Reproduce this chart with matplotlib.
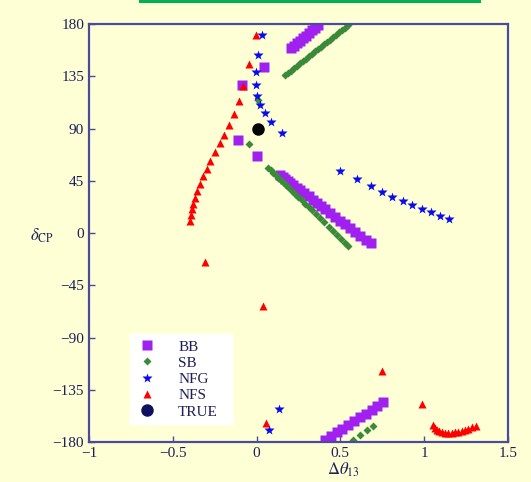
import matplotlib
matplotlib.use("Agg")
import matplotlib.pyplot as plt
from matplotlib.lines import Line2D

# ---- data ----
bb_x = [-0.089, 0.044, -0.113, 0.002,
        0.205, 0.222, 0.240, 0.258, 0.276, 0.294, 0.312, 0.330, 0.348, 0.366,
        0.14, 0.155, 0.17, 0.185, 0.20, 0.22, 0.24, 0.26, 0.285, 0.31, 0.335, 0.36,
        0.385, 0.41, 0.44, 0.47, 0.50, 0.53, 0.56, 0.59, 0.62, 0.65, 0.68,
        0.408, 0.443, 0.478, 0.512, 0.547, 0.582, 0.617, 0.652, 0.686, 0.721, 0.756]
bb_y = [127.5, 142.7, 80.1, 66.3,
        159, 161, 163.5, 165.5, 168, 170, 172.5, 174.5, 177, 179,
        50, 48.4, 46.7, 45.1, 43.5, 41.3, 39.1, 36.9, 34.2, 31.5, 28.7, 26.0,
        23.3, 20.6, 17.3, 14.0, 10.8, 7.5, 4.2, 1.0, -2.3, -5.6, -8.9,
        -178.3, -175.0, -171.8, -168.5, -165.3, -162.0, -158.8, -155.5, -152.3, -149.0, -145.8]

sb_x = [0.006, -0.044,
        0.17, 0.188, 0.206, 0.224, 0.242, 0.26, 0.278, 0.296, 0.314, 0.332, 0.35,
        0.368, 0.386, 0.404, 0.422, 0.44, 0.458, 0.476, 0.494, 0.512, 0.53, 0.548,
        0.07, 0.085, 0.10, 0.115, 0.13, 0.145, 0.16, 0.175, 0.19, 0.21, 0.23, 0.25,
        0.27, 0.29, 0.31, 0.33, 0.355, 0.38, 0.405, 0.43, 0.455, 0.48, 0.505, 0.53, 0.547,
        0.577, 0.617, 0.656, 0.696]
sb_y = [114.6, 76.7,
        136, 138, 140, 142.1, 144.1, 146.2, 148.2, 150.3, 152.3, 154.4, 156.4,
        158.5, 160.5, 162.6, 164.6, 166.7, 168.7, 170.8, 172.8, 174.9, 176.9, 179,
        56.3, 54.2, 52.1, 49.9, 47.8, 45.7, 43.6, 41.5, 39.4, 36.6, 33.7, 30.9,
        28.1, 25.3, 22.5, 19.6, 16.1, 12.6, 9.1, 5.5, 2.0, -1.5, -5.0, -8.6, -10.9,
        -178.3, -174.0, -169.7, -166.0]

nfg_x = [0.03, 0.006, -0.006, -0.006, 0.002, 0.02, 0.05, 0.088, 0.149,
         0.498, 0.597, 0.68, 0.75, 0.81, 0.871, 0.929, 0.987, 1.04, 1.094, 1.15,
         0.134, 0.074]
nfg_y = [170.5, 153.3, 138.9, 127.5, 118.3, 110.2, 103.1, 95.3, 85.9,
         53.4, 46.2, 40.5, 35.6, 31.3, 27.6, 24.1, 20.7, 17.8, 14.9, 12.1,
         -151.8, -169.9]

nfs_x = [-0.004, -0.047, -0.083, -0.107, -0.137, -0.165, -0.195, -0.22, -0.25,
         -0.277, -0.298, -0.32, -0.338, -0.356, -0.368, -0.378, -0.386, -0.392, -0.396,
         -0.308, 0.036, 0.054, 0.75, 0.987,
         1.055, 1.062, 1.074, 1.088, 1.104, 1.124, 1.144, 1.164, 1.184, 1.204,
         1.223, 1.243, 1.263, 1.286, 1.309]
nfs_y = [170.3, 145.3, 126.6, 114, 102.5, 93.3, 84.7, 77.3, 69.5,
         62.3, 55.4, 49.1, 42.5, 36.2, 30.4, 25.2, 20.4, 15.8, 10.6,
         -25.2, -62.9, -163.3, -119, -147.3,
         -165.3, -167.8, -169.6, -170.8, -171.6, -172.2, -172.5, -172.2, -171.6, -171.1,
         -170.5, -169.7, -168.8, -167.5, -166.2]

true_x = [0.006]
true_y = [89.6]

x_ticks = [-1, -0.5, 0, 0.5, 1, 1.5]
x_labels = ["\u22121", "\u22120.5", "0", "0.5", "1", "1.5"]
y_ticks = [-180, -135, -90, -45, 0, 45, 90, 135, 180]
y_labels = ["\u2212180", "\u2212135", "\u221290", "\u221245", "0", "45", "90", "135", "180"]

# ---- style ----
bg = "#FFFFD6"
frame = "#4B4B9B"
txt = "#1E1E5A"
plt.rcParams['font.family'] = ['Liberation Serif', 'DejaVu Serif']
plt.rcParams['mathtext.fontset'] = 'stix'

fig = plt.figure(figsize=(5.31, 4.82), dpi=100, facecolor=bg)
ax = fig.add_axes([0.1676, 0.083, 0.789, 0.867], facecolor=bg)

ax.plot(bb_x, bb_y, 's', color='#A020F0', ms=6.5, mec='none', label='BB')
ax.plot(sb_x, sb_y, 'D', color='#3A8A3A', ms=4.5, mec='none', label='SB')
ax.plot(nfg_x, nfg_y, '*', color='#0A0AF0', ms=7, mec='none', label='NFG')
ax.plot(nfs_x, nfs_y, '^', color='#FF0000', ms=6, mec='none', label='NFS')
ax.plot(true_x, true_y, 'o', color='black', ms=9, mec='none', label='TRUE')

ax.set_xlim(-1, 1.5)
ax.set_ylim(-180, 180)
ax.set_xticks(x_ticks)
ax.set_xticklabels(x_labels)
ax.set_yticks(y_ticks)
ax.set_yticklabels(y_labels)
ax.tick_params(direction='in', length=4, width=1, color=frame, labelcolor=txt,
               labelsize=11, top=False, right=False)
for s in ax.spines.values():
    s.set_color(frame)
    s.set_linewidth(1.6)

fig.text(30/531, 1 - 236/482, r'$\delta_{\rm CP}$', ha='left', va='center',
         fontsize=12, color=txt)
fig.text(343/531, 1 - 470/482, r'$\Delta\theta_{13}$', ha='center', va='center',
         fontsize=12, color=txt)

leg = ax.legend(loc='lower left', bbox_to_anchor=(0.098, 0.043, 0.243, 0.208),
                mode='expand', frameon=True, fancybox=False, fontsize=11,
                borderpad=0.35, labelspacing=0.17, handletextpad=1.3,
                handlelength=1.5, borderaxespad=0)
leg.get_frame().set_facecolor('white')
leg.get_frame().set_edgecolor('white')
leg.get_frame().set_alpha(1)
for t in leg.get_texts():
    t.set_color(txt)
leg.legend_handles[4].set_color('#101060')

fig.add_artist(Line2D([140/531, 479/531], [1 - 1/482, 1 - 1/482],
                      color='#00B050', lw=2.2))

fig.savefig('out.png', dpi=100, facecolor=bg)
